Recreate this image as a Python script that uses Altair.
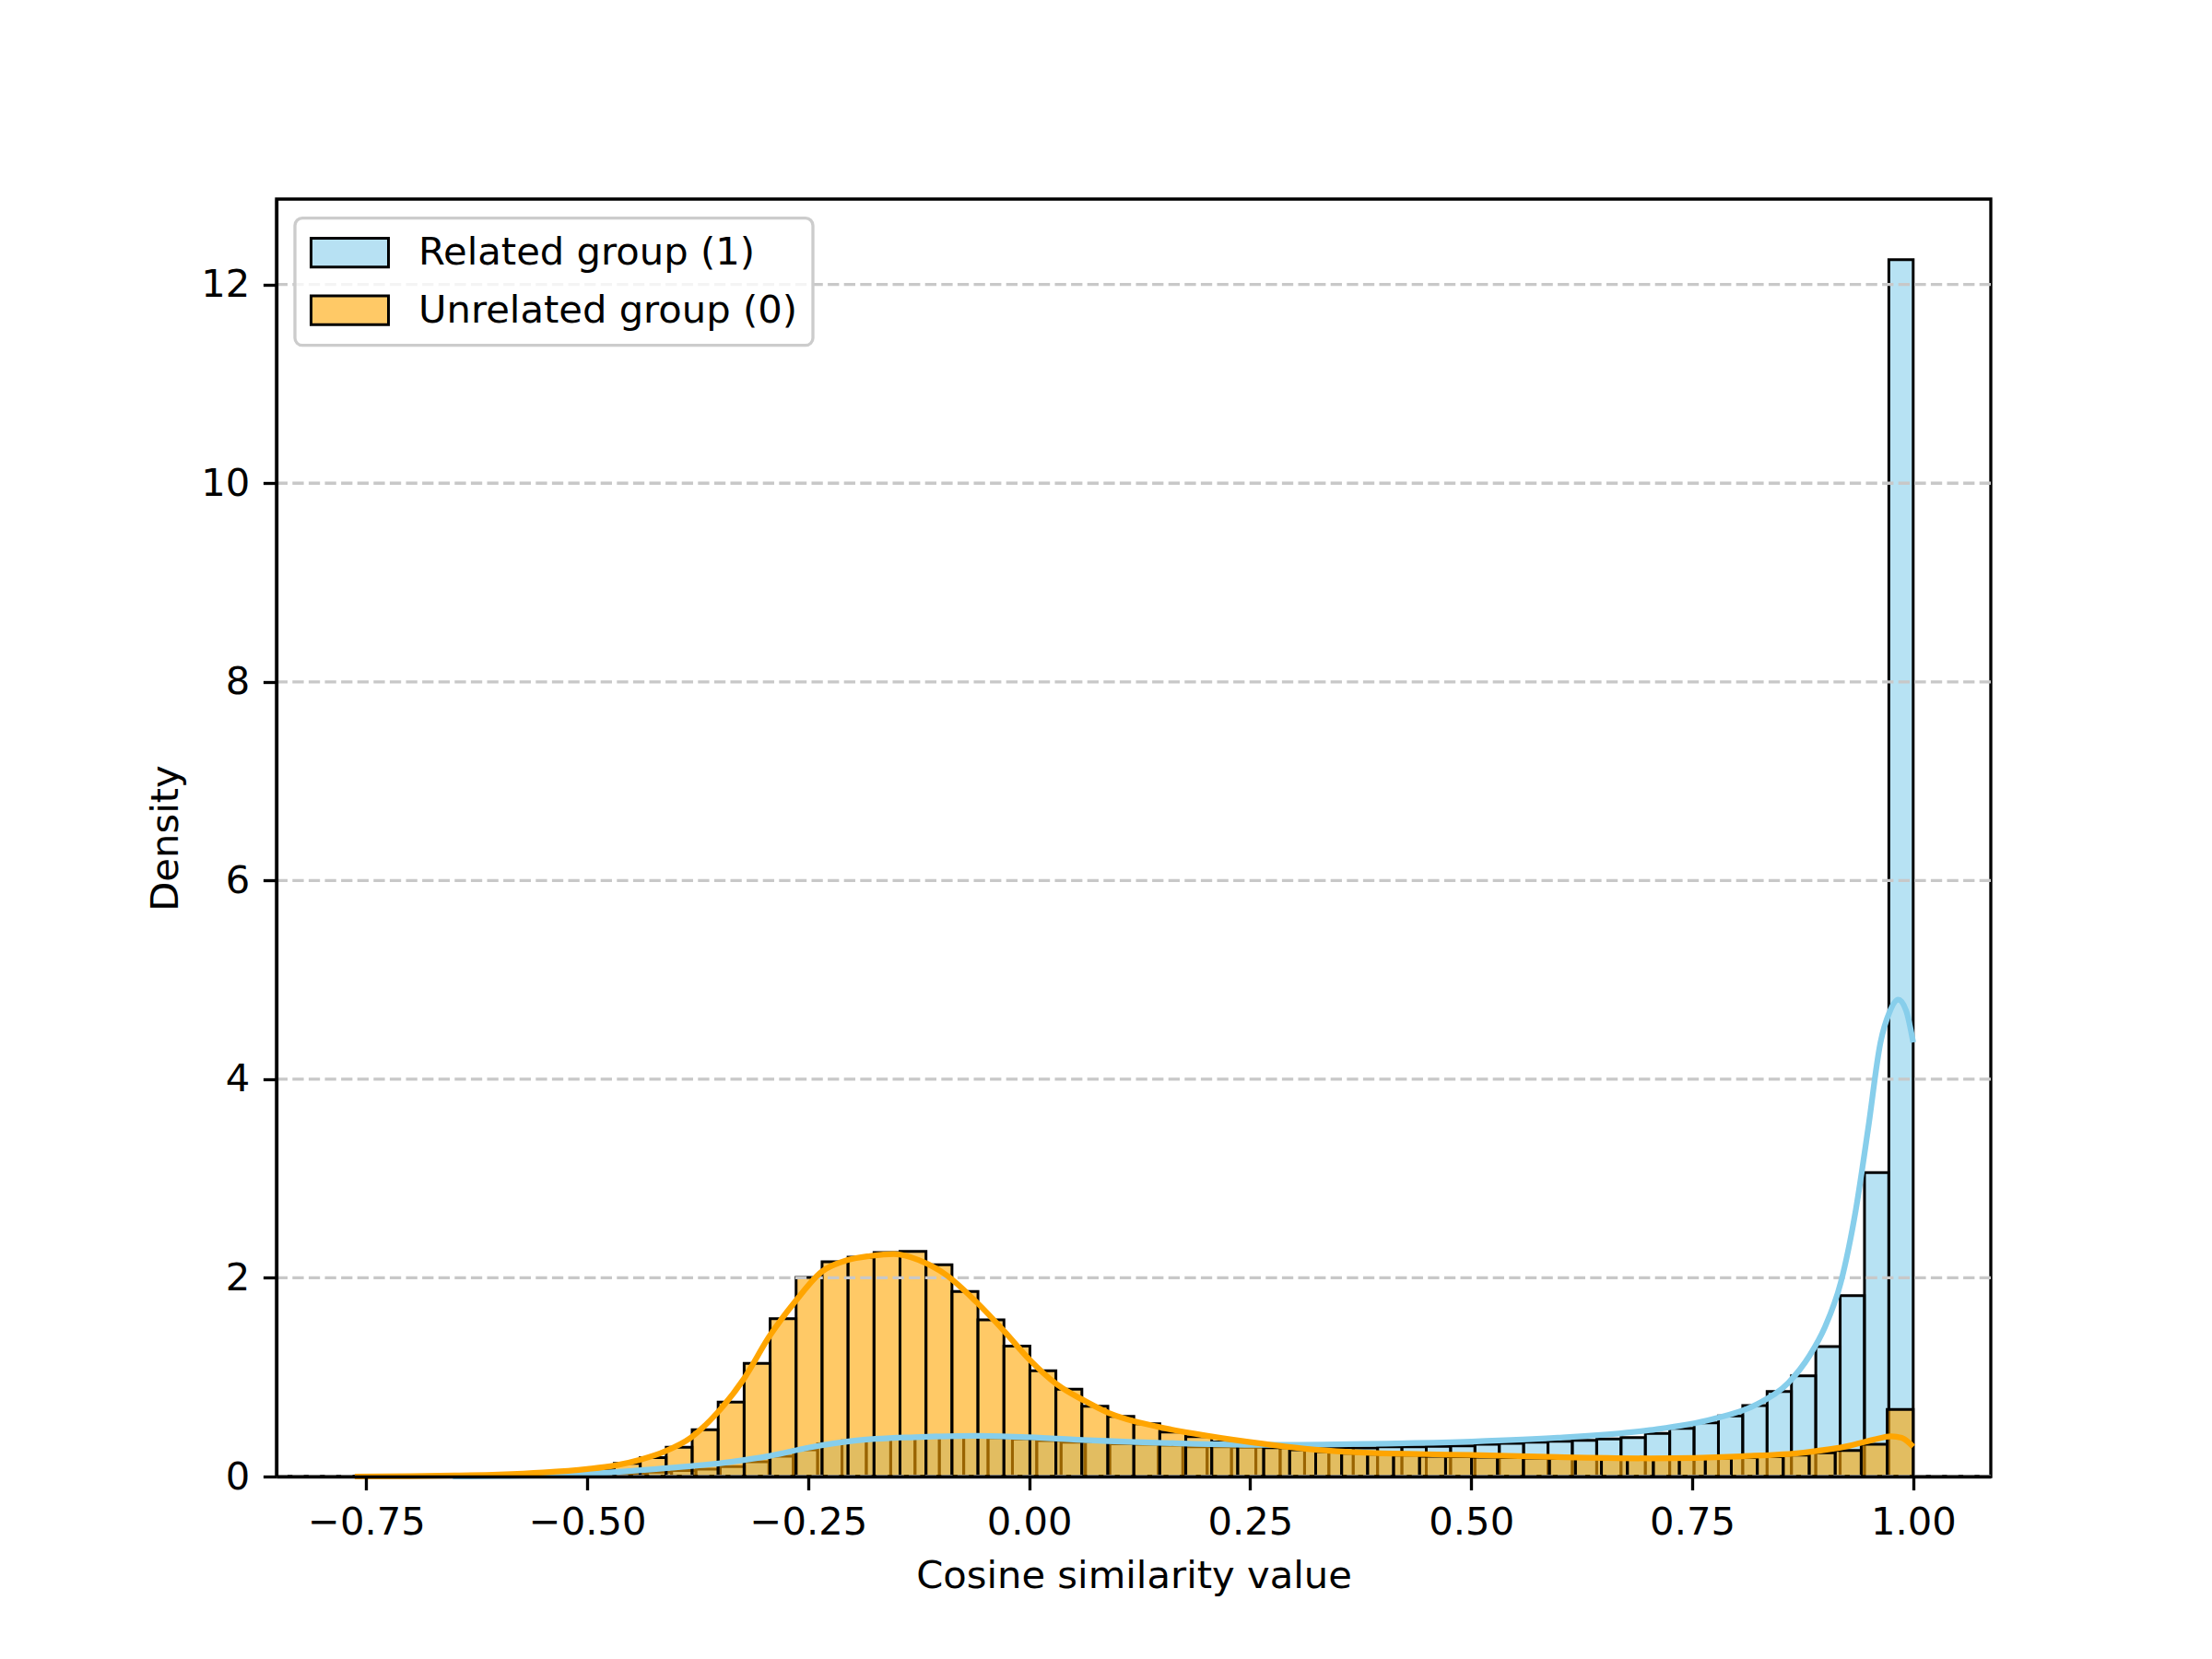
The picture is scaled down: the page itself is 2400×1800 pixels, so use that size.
import altair as alt
import pandas as pd

# ---------------- data ----------------
REL = "Related group (1)"
UNREL = "Unrelated group (0)"

# histogram bin layout (60 equal bins per group, spanning each group's data range)
related_bin_start = -0.6524
related_bin_end = 1.0
unrelated_bin_start = -0.7633
unrelated_bin_end = 1.0
n_bins = 60

related_density = [
    0.004, 0.004, 0.006, 0.008, 0.010, 0.015, 0.020, 0.030, 0.045, 0.060,
    0.075, 0.100, 0.148, 0.204, 0.270, 0.330, 0.360, 0.380, 0.390, 0.400,
    0.405, 0.400, 0.390, 0.377, 0.362, 0.345, 0.350, 0.330, 0.325, 0.315,
    0.300, 0.300, 0.295, 0.295, 0.295, 0.290, 0.290, 0.288, 0.300, 0.300,
    0.303, 0.309, 0.325, 0.334, 0.346, 0.356, 0.365, 0.377, 0.393, 0.433,
    0.485, 0.541, 0.609, 0.715, 0.857, 1.014, 1.308, 1.820, 3.060, 12.25,
]

unrelated_density = [
    0.002, 0.002, 0.004, 0.005, 0.008, 0.012, 0.020, 0.030, 0.050, 0.078,
    0.132, 0.190, 0.295, 0.470, 0.750, 1.140, 1.589, 2.004, 2.161, 2.208,
    2.254, 2.266, 2.131, 1.862, 1.577, 1.314, 1.064, 0.878, 0.708, 0.606,
    0.532, 0.448, 0.402, 0.349, 0.320, 0.290, 0.270, 0.250, 0.235, 0.225,
    0.215, 0.205, 0.200, 0.195, 0.190, 0.185, 0.180, 0.180, 0.175, 0.175,
    0.178, 0.180, 0.185, 0.190, 0.200, 0.215, 0.240, 0.263, 0.325, 0.674,
]

related_kde_x = [-0.652, -0.60, -0.55, -0.50, -0.476, -0.407, -0.337, -0.292, -0.25, -0.198,
                 -0.129, -0.059, 0.0, 0.067, 0.17, 0.274, 0.379, 0.50, 0.598, 0.702,
                 0.772, 0.824, 0.859, 0.883, 0.90, 0.918, 0.935, 0.949, 0.963, 0.973,
                 0.983, 0.992, 1.0]
related_kde_y = [0.0, 0.005, 0.012, 0.028, 0.04, 0.086, 0.148, 0.21, 0.29, 0.36,
                 0.396, 0.41, 0.395, 0.365, 0.334, 0.318, 0.328, 0.352, 0.39, 0.467,
                 0.575, 0.73, 0.946, 1.22, 1.5, 1.95, 2.68, 3.5, 4.37, 4.67,
                 4.80, 4.69, 4.37]

unrelated_kde_x = [-0.763, -0.70, -0.65, -0.60, -0.55, -0.50, -0.469, -0.44, -0.413, -0.383,
                   -0.353, -0.323, -0.294, -0.264, -0.235, -0.205, -0.18, -0.153, -0.125, -0.094,
                   -0.059, -0.028, 0.0, 0.031, 0.063, 0.09, 0.146, 0.205, 0.264, 0.323,
                   0.379, 0.448, 0.50, 0.598, 0.702, 0.806, 0.876, 0.928, 0.955, 0.975,
                   0.987, 1.0]
unrelated_kde_y = [0.0, 0.004, 0.01, 0.02, 0.04, 0.075, 0.11, 0.17, 0.25, 0.39,
                   0.64, 0.98, 1.41, 1.77, 2.06, 2.18, 2.22, 2.24, 2.18, 2.03,
                   1.75, 1.46, 1.18, 0.93, 0.76, 0.64, 0.50, 0.405, 0.33, 0.27,
                   0.24, 0.225, 0.216, 0.195, 0.183, 0.204, 0.241, 0.31, 0.37, 0.405,
                   0.39, 0.30]

x_ticks = [-0.75, -0.5, -0.25, 0.0, 0.25, 0.5, 0.75, 1.0]
y_ticks = [0, 2, 4, 6, 8, 10, 12]
x_domain = [-0.8515, 1.0878]
y_domain = [0, 12.86]

# ---------------- tables ----------------
def hist_table(group, start, end, dens):
    w = (end - start) / n_bins
    return pd.DataFrame({
        "group": group,
        "x0": [start + i * w for i in range(len(dens))],
        "x1": [start + (i + 1) * w for i in range(len(dens))],
        "density": dens,
        "base": 0.0,
    })

rel_df = hist_table(REL, related_bin_start, related_bin_end, related_density)
unrel_df = hist_table(UNREL, unrelated_bin_start, unrelated_bin_end, unrelated_density)
all_df = pd.concat([rel_df, unrel_df], ignore_index=True)
rel_kde = pd.DataFrame({"x": related_kde_x, "y": related_kde_y})
unrel_kde = pd.DataFrame({"x": unrelated_kde_x, "y": unrelated_kde_y})
grid_df = pd.DataFrame({"tick": y_ticks})

# ---------------- styling ----------------
FONT = "DejaVu Sans"
FS = 41.7
LW = 3.33

xscale = alt.Scale(domain=x_domain, nice=False, zero=False)
yscale = alt.Scale(domain=y_domain, nice=False, zero=False)
cscale = alt.Scale(domain=[REL, UNREL], range=["#87CEEB", "#FFA500"])
# colours of the translucent patches as they look over white (for the legend swatches)
legend_scale = alt.Scale(domain=[REL, UNREL], range=["#B7E1F3", "#FFC966"])

xaxis = alt.Axis(values=x_ticks, format=".2f", title="Cosine similarity value", grid=False,
                 domainColor="black", domainWidth=LW, tickColor="black", tickWidth=LW,
                 tickSize=14.6, labelPadding=14.6, labelFont=FONT, labelFontSize=FS,
                 labelColor="black", titleFont=FONT, titleFontSize=FS, titleFontWeight="normal",
                 titleColor="black", titlePadding=16.7, zindex=1, labelFlush=False,
                 labelOverlap=False)
yaxis = alt.Axis(values=y_ticks, format="d", title="Density", grid=False,
                 domainColor="black", domainWidth=LW, tickColor="black", tickWidth=LW,
                 tickSize=14.6, labelPadding=14.6, labelFont=FONT, labelFontSize=FS,
                 labelColor="black", titleFont=FONT, titleFontSize=FS, titleFontWeight="normal",
                 titleColor="black", titlePadding=16.7, zindex=1, labelFlush=False,
                 labelOverlap=False)

legend = alt.Legend(title=None, orient="none", legendX=20, legendY=20.7,
                    symbolType="M-1,-0.78H3.2V0.78H-1Z", symbolSize=1600,
                    symbolStrokeColor="black", symbolStrokeWidth=3,
                    labelFont=FONT, labelFontSize=FS, labelColor="black", labelLimit=0,
                    labelOffset=75, rowPadding=17.5, padding=16)


def bars(df):
    return alt.Chart(df).mark_rect(stroke="black", strokeWidth=3, fillOpacity=0.6).encode(
        x=alt.X("x0:Q", scale=xscale, axis=xaxis),
        x2="x1:Q",
        y=alt.Y("density:Q", scale=yscale, axis=yaxis),
        y2="base:Q",
        fill=alt.Fill("group:N", scale=cscale, legend=None),
    )


# invisible layer that only carries the legend
legend_layer = alt.Chart(all_df).mark_rect(fillOpacity=0, strokeOpacity=0).encode(
    x=alt.X("x0:Q", scale=xscale, axis=xaxis),
    x2="x1:Q",
    y=alt.Y("density:Q", scale=yscale, axis=yaxis),
    y2="base:Q",
    fill=alt.Fill("group:N", scale=legend_scale, legend=legend),
)

grid = alt.Chart(grid_df).mark_rule(stroke="#c8c8c8", strokeWidth=LW,
                                    strokeDash=[12.3, 5.3]).encode(
    y=alt.Y("tick:Q", scale=yscale, axis=yaxis)
)


def kde(df, color):
    return alt.Chart(df).mark_line(stroke=color, strokeWidth=6.25, interpolate="monotone").encode(
        x=alt.X("x:Q", scale=xscale, axis=xaxis),
        y=alt.Y("y:Q", scale=yscale, axis=yaxis),
    )


chart = alt.layer(
    legend_layer,
    bars(rel_df),
    bars(unrel_df),
    grid,
    kde(rel_kde, "#87CEEB"),
    kde(unrel_kde, "#FFA500"),
).resolve_scale(
    fill="independent"
).properties(
    width=1860,
    height=1386,
    autosize=alt.AutoSizeParams(type="none"),
    padding={"left": 300, "top": 216, "right": 240, "bottom": 198},
    background="white",
).configure_view(
    stroke="black", strokeWidth=LW
).configure_legend(
    strokeColor="#cccccc", strokeWidth=LW, fillColor="rgba(255,255,255,0.8)",
    cornerRadius=8
)

chart.save("out.html", embed_options={"renderer": "svg", "actions": False})
